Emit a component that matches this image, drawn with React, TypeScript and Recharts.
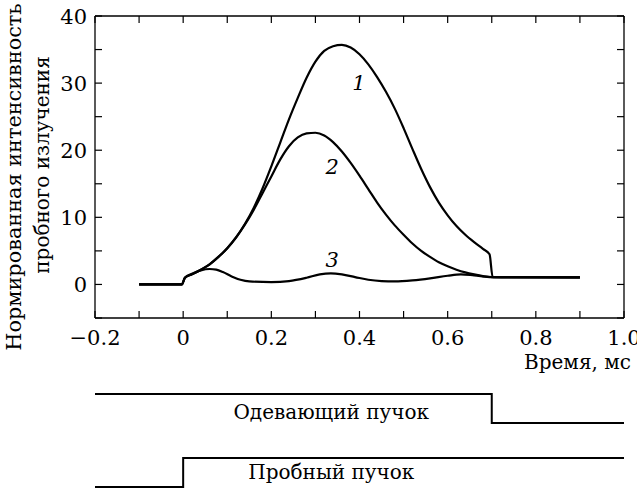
import React from 'react'
import { LineChart, Line, XAxis, YAxis, ReferenceDot } from 'recharts'

const FONT = '"DejaVu Serif", serif'

// axis ticks (time in ms, normalized intensity)
const xTicks = [-0.2, -0.1, 0, 0.1, 0.2, 0.3, 0.4, 0.5, 0.6, 0.7, 0.8, 0.9, 1.0]
const xTickLabels = ['\u22120.2', '', '0', '', '0.2', '', '0.4', '', '0.6', '', '0.8', '', '1.0']
const yTicks = [-5, 0, 5, 10, 15, 20, 25, 30, 35, 40]
const yTickLabels = ['', '0', '', '10', '', '20', '', '30', '', '40']

// curve 1
const curve1T = [-0.1, -0.003, 0.004, 0.02, 0.04, 0.06, 0.08, 0.1, 0.12, 0.14, 0.16, 0.18, 0.2, 0.22, 0.24, 0.26, 0.28, 0.3, 0.32, 0.34, 0.36, 0.38, 0.4, 0.42, 0.44, 0.46, 0.48, 0.5, 0.52, 0.54, 0.56, 0.58, 0.6, 0.62, 0.64, 0.66, 0.68, 0.695, 0.702, 0.75, 0.9]
const curve1I = [0, 0, 1.0, 1.5, 2.2, 3.0, 4.1, 5.4, 7.0, 9.0, 11.4, 14.3, 17.6, 21.1, 24.6, 27.8, 30.8, 33.2, 34.8, 35.5, 35.7, 35.3, 34.3, 32.8, 30.9, 28.7, 26.2, 23.3, 20.2, 17.2, 14.5, 12.2, 10.3, 8.7, 7.4, 6.3, 5.3, 4.5, 1.1, 1.05, 1.05]

// curve 2
const curve2T = [-0.1, -0.003, 0.004, 0.02, 0.04, 0.06, 0.08, 0.1, 0.12, 0.14, 0.16, 0.18, 0.2, 0.22, 0.24, 0.26, 0.28, 0.3, 0.32, 0.34, 0.36, 0.38, 0.4, 0.42, 0.44, 0.46, 0.48, 0.5, 0.52, 0.54, 0.56, 0.58, 0.6, 0.62, 0.64, 0.66, 0.68, 0.7, 0.9]
const curve2I = [0, 0, 1.0, 1.5, 2.2, 3.0, 4.1, 5.4, 7.0, 8.9, 11.1, 13.6, 16.1, 18.6, 20.6, 21.9, 22.5, 22.6, 22.2, 21.2, 19.8, 18.1, 16.2, 14.2, 12.2, 10.4, 8.8, 7.4, 6.1, 5.0, 4.1, 3.3, 2.7, 2.2, 1.8, 1.5, 1.25, 1.1, 1.05]

// curve 3
const curve3T = [-0.1, -0.003, 0.004, 0.02, 0.04, 0.06, 0.075, 0.09, 0.11, 0.13, 0.15, 0.2, 0.24, 0.28, 0.31, 0.335, 0.36, 0.39, 0.42, 0.45, 0.48, 0.52, 0.56, 0.6, 0.63, 0.66, 0.7, 0.9]
const curve3I = [0, 0, 1.0, 1.6, 2.1, 2.3, 2.2, 1.85, 1.2, 0.7, 0.45, 0.35, 0.5, 1.0, 1.5, 1.65, 1.5, 1.1, 0.7, 0.5, 0.45, 0.6, 0.9, 1.3, 1.5, 1.35, 1.1, 1.05]

// curve number labels: [t, I, text]
const curveLabels: [number, number, string][] = [
  [0.399, 30.0, '1'],
  [0.338, 17.5, '2'],
  [0.338, 3.7, '3'],
]

// beam timing diagram
const gateT = [-0.2, 0, 0.7, 1.0]
const pumpLevel = [3.2, 3.2, 2.2, 2.2]
const probeLevel = [0, 1, 1, 1]
const gateLabels: [number, number, string][] = [
  [0.336, 2.58, 'Одевающий пучок'],
  [0.336, 0.52, 'Пробный пучок'],
]

const zip = (t: number[], v: number[]) => t.map((x, i) => ({ t: x, v: v[i] }))
const data1 = zip(curve1T, curve1I)
const data2 = zip(curve2T, curve2I)
const data3 = zip(curve3T, curve3I)
const gateData = gateT.map((t, i) => ({ t, pump: pumpLevel[i], probe: probeLevel[i] }))

const TICK_LEN = 7
const idxOf = (arr: number[], v: number) => arr.findIndex((a) => Math.abs(a - v) < 1e-6)

const BottomTick = (props: any) => {
  const { x, y, payload } = props
  const label = xTickLabels[idxOf(xTicks, payload.value)] || ''
  return (
    <g>
      <line x1={x} y1={y} x2={x} y2={y - TICK_LEN} stroke="#000" strokeWidth={1.2} />
      {label && (
        <text x={x} y={y + 27} textAnchor="middle" fontFamily={FONT} fontSize={21} fill="#000">
          {label}
        </text>
      )}
    </g>
  )
}

const TopTick = (props: any) => {
  const { x, y } = props
  return <line x1={x} y1={y} x2={x} y2={y + TICK_LEN} stroke="#000" strokeWidth={1.2} />
}

const LeftTick = (props: any) => {
  const { x, y, payload } = props
  const label = yTickLabels[idxOf(yTicks, payload.value)] || ''
  return (
    <g>
      <line x1={x} y1={y} x2={x + TICK_LEN} y2={y} stroke="#000" strokeWidth={1.2} />
      {label && (
        <text x={x - 8} y={y + 7.5} textAnchor="end" fontFamily={FONT} fontSize={21} fill="#000">
          {label}
        </text>
      )}
    </g>
  )
}

const RightTick = (props: any) => {
  const { x, y } = props
  return <line x1={x} y1={y} x2={x - TICK_LEN} y2={y} stroke="#000" strokeWidth={1.2} />
}

const YTitle = (props: any) => {
  const { viewBox } = props
  const cy = viewBox.y + viewBox.height / 2
  return (
    <g fontFamily={FONT} fill="#000">
      <text transform={`translate(${viewBox.x + 21}, ${cy + 10}) rotate(-90)`} textAnchor="middle" fontSize={20.8}>
        Нормированная интенсивность
      </text>
      <text transform={`translate(${viewBox.x + 49}, ${cy - 2}) rotate(-90)`} textAnchor="middle" fontSize={20}>
        пробного излучения
      </text>
    </g>
  )
}

const XTitle = (props: any) => {
  const { viewBox } = props
  return (
    <text x={viewBox.x + 429} y={viewBox.y + 51} fontFamily={FONT} fontSize={20} fill="#000">
      Время, мс
    </text>
  )
}

const textLabel = (text: string, italic: boolean) => (props: any) => {
  const { viewBox } = props
  const cx = viewBox.x + viewBox.width / 2
  const cy = viewBox.y + viewBox.height / 2
  return (
    <text
      x={cx}
      y={cy}
      textAnchor="middle"
      dominantBaseline="central"
      fontFamily={FONT}
      fontStyle={italic ? 'italic' : 'normal'}
      fontSize={italic ? 21 : 20}
      fill="#000"
    >
      {text}
    </text>
  )
}

export default function App() {
  return (
    <div style={{ position: 'absolute', left: 0, top: 0, width: 637, height: 493, background: '#fff' }}>
      <LineChart width={637} height={380} margin={{ top: 0, right: 0, bottom: 0, left: 0 }}>
        <XAxis
          xAxisId="b"
          type="number"
          dataKey="t"
          domain={[-0.2, 1.0]}
          ticks={xTicks}
          interval={0}
          allowDataOverflow
          height={62}
          tickSize={0}
          tickMargin={0}
          tick={<BottomTick />}
          axisLine={{ stroke: '#000', strokeWidth: 1.3 }}
          label={XTitle}
        />
        <XAxis
          xAxisId="t"
          orientation="top"
          type="number"
          dataKey="t"
          domain={[-0.2, 1.0]}
          ticks={xTicks}
          interval={0}
          allowDataOverflow
          height={16}
          tickSize={0}
          tickMargin={0}
          tick={<TopTick />}
          axisLine={{ stroke: '#000', strokeWidth: 1.3 }}
        />
        <YAxis
          yAxisId="l"
          type="number"
          domain={[-5, 40]}
          ticks={yTicks}
          interval={0}
          allowDataOverflow
          width={95}
          tickSize={0}
          tickMargin={0}
          tick={<LeftTick />}
          axisLine={{ stroke: '#000', strokeWidth: 1.3 }}
          label={YTitle}
        />
        <YAxis
          yAxisId="r"
          orientation="right"
          type="number"
          domain={[-5, 40]}
          ticks={yTicks}
          interval={0}
          allowDataOverflow
          width={13}
          tickSize={0}
          tickMargin={0}
          tick={<RightTick />}
          axisLine={{ stroke: '#000', strokeWidth: 1.3 }}
        />
        {[data1, data2, data3].map((d, i) => (
          <Line
            key={i}
            xAxisId="b"
            yAxisId="l"
            data={d}
            dataKey="v"
            type="monotone"
            stroke="#000"
            strokeWidth={2.2}
            dot={false}
            activeDot={false}
            isAnimationActive={false}
          />
        ))}
        {curveLabels.map(([t, v, s]) => (
          <ReferenceDot
            key={s}
            xAxisId="b"
            yAxisId="l"
            x={t}
            y={v}
            r={0}
            fill="none"
            stroke="none"
            label={textLabel(s, true)}
          />
        ))}
      </LineChart>
      <LineChart width={637} height={113} data={gateData} margin={{ top: 14, right: 13, bottom: 6, left: 95 }}>
        <XAxis type="number" dataKey="t" domain={[-0.2, 1.0]} hide />
        <YAxis type="number" domain={[0, 3.2]} hide />
        <Line dataKey="pump" type="stepAfter" stroke="#000" strokeWidth={2} dot={false} activeDot={false} isAnimationActive={false} />
        <Line dataKey="probe" type="stepAfter" stroke="#000" strokeWidth={2} dot={false} activeDot={false} isAnimationActive={false} />
        {gateLabels.map(([t, v, s]) => (
          <ReferenceDot key={s} x={t} y={v} r={0} fill="none" stroke="none" label={textLabel(s, false)} />
        ))}
      </LineChart>
    </div>
  )
}
